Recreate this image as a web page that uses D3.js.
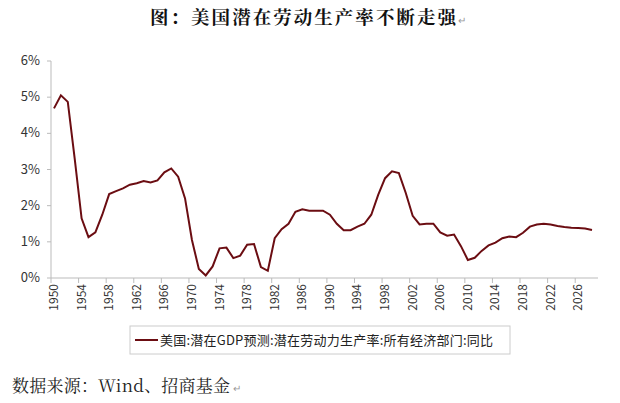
<!DOCTYPE html><html><head><meta charset="utf-8"><script src="https://cdn.jsdelivr.net/npm/d3@7"></script>
<style>body{margin:0;background:#fff}</style></head><body><svg id="c" width="620" height="403"></svg><script>
const years=d3.range(1950,2029);
const values=[4.69,5.05,4.87,3.3,1.65,1.13,1.26,1.75,2.32,2.4,2.48,2.58,2.62,2.68,2.64,2.7,2.92,3.03,2.8,2.2,1.05,0.25,0.07,0.32,0.82,0.84,0.55,0.62,0.92,0.94,0.3,0.2,1.1,1.35,1.5,1.83,1.9,1.86,1.86,1.86,1.75,1.5,1.32,1.32,1.42,1.5,1.75,2.3,2.76,2.95,2.9,2.35,1.72,1.48,1.5,1.5,1.26,1.17,1.2,0.88,0.5,0.56,0.75,0.9,0.98,1.1,1.15,1.13,1.25,1.42,1.48,1.5,1.48,1.44,1.41,1.39,1.38,1.37,1.33];
const tickYears=d3.range(1950,2027,4);
const yTicks=[0,1,2,3,4,5,6];
const svg=d3.select("#c");
const x=d3.scaleLinear().domain([1950,2028]).range([54,592]);
const y=d3.scaleLinear().domain([0,6]).range([278,61]);
const f="'Microsoft YaHei','Noto Sans CJK SC',sans-serif";
svg.append("text").attr("x",150).attr("y",24).attr("font-family","'Noto Serif CJK SC','Noto Sans CJK SC',serif").attr("font-weight","bold").attr("font-size",18.5).attr("textLength",306).attr("fill","#111").text("图：美国潜在劳动生产率不断走强");
svg.append("text").attr("x",458).attr("y",24).attr("font-size",10).attr("fill","#999").text("↵");
const g=svg.append("g");
g.append("line").attr("x1",51).attr("x2",51).attr("y1",61).attr("y2",278).attr("stroke","#bbb");
g.append("line").attr("x1",51).attr("x2",598).attr("y1",278).attr("y2",278).attr("stroke","#bbb");
yTicks.forEach(t=>{g.append("line").attr("x1",47).attr("x2",51).attr("y1",y(t)).attr("y2",y(t)).attr("stroke","#bbb");
g.append("text").attr("x",40).attr("y",y(t)+4).attr("text-anchor","end").attr("font-family",f).attr("font-size",13).attr("fill","#333").text(t+"%");});
tickYears.forEach(t=>{const xx=x(t)-3;g.append("line").attr("x1",xx).attr("x2",xx).attr("y1",278).attr("y2",283).attr("stroke","#bbb");
g.append("text").attr("transform",`translate(${x(t)+4},284) rotate(-90)`).attr("text-anchor","end").attr("font-family",f).attr("font-size",12).attr("fill","#333").text(t);});
g.append("path").datum(values).attr("fill","none").attr("stroke","#6b0d12").attr("stroke-width",2)
.attr("d",d3.line().x((d,i)=>x(years[i])).y(d=>y(d)));
svg.append("rect").attr("x",130).attr("y",326).attr("width",380).attr("height",28).attr("fill","none").attr("stroke","#ccc");
svg.append("line").attr("x1",135).attr("x2",158).attr("y1",340).attr("y2",340).attr("stroke","#6b0d12").attr("stroke-width",2);
svg.append("text").attr("x",160).attr("y",345).attr("font-family",f).attr("font-size",13).attr("textLength",333).attr("fill","#222").text("美国:潜在GDP预测:潜在劳动力生产率:所有经济部门:同比");
svg.append("text").attr("x",12).attr("y",392).attr("font-family","'Noto Serif CJK SC','Noto Sans CJK SC',serif").attr("font-size",17).attr("textLength",218).attr("fill","#222").text("数据来源：Wind、招商基金");
svg.append("text").attr("x",233).attr("y",392).attr("font-size",10).attr("fill","#999").text("↵");
</script></body></html>
